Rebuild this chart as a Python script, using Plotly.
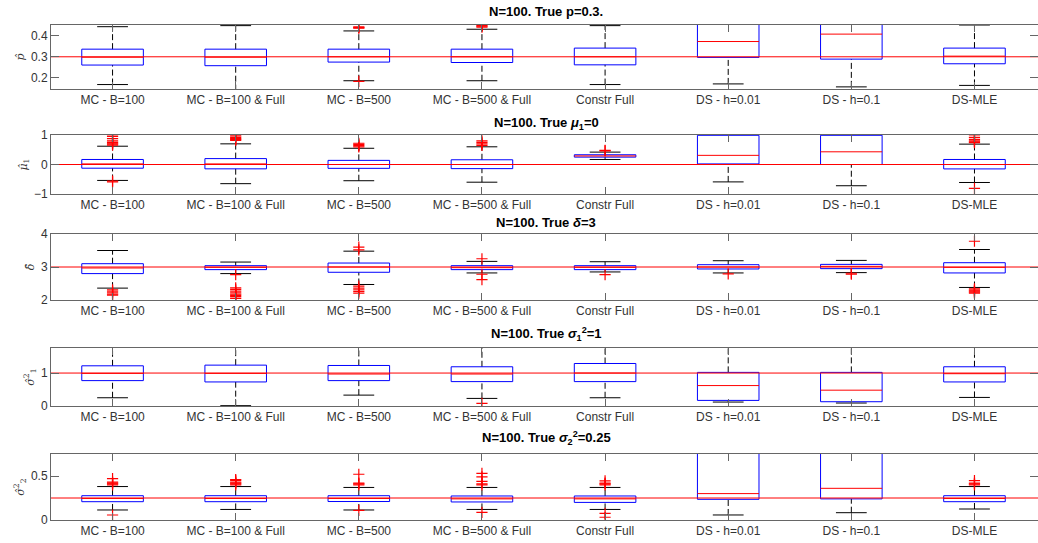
import plotly.graph_objects as go

categories = ["MC - B=100", "MC - B=100 & Full", "MC - B=500", "MC - B=500 & Full",
              "Constr Full", "DS - h=0.01", "DS - h=0.1", "DS-MLE"]

# Panel 1: p
p_true = 0.3
p_lo  = [0.169, 0.140, 0.187, 0.187, 0.169, 0.172, 0.158, 0.165]
p_q1  = [0.261, 0.258, 0.275, 0.273, 0.262, 0.297, 0.289, 0.267]
p_med = [0.298, 0.298, 0.300, 0.300, 0.300, 0.372, 0.407, 0.303]
p_q3  = [0.336, 0.336, 0.336, 0.336, 0.341, 0.520, 0.540, 0.341]
p_hi  = [0.442, 0.447, 0.422, 0.430, 0.447, 0.600, 0.620, 0.450]
p_out = [[], [], [0.435, 0.438, 0.441, 0.184], [0.440, 0.444, 0.447], [], [], [], []]

# Panel 2: mu1
mu_true = 0.0
mu_lo  = [-0.54, -0.65, -0.55, -0.60, 0.17, -0.59, -0.72, -0.61]
mu_q1  = [-0.125, -0.147, -0.13, -0.14, 0.25, 0.02, 0.00, -0.15]
mu_med = [0.02, 0.02, 0.00, 0.00, 0.29, 0.31, 0.43, 0.00]
mu_q3  = [0.17, 0.20, 0.14, 0.16, 0.33, 0.99, 0.99, 0.17]
mu_hi  = [0.62, 0.70, 0.55, 0.60, 0.42, 1.30, 1.35, 0.69]
mu_out = [[0.66, 0.69, 0.72, 0.75, 0.80, 0.88, 0.95, 1.00, -0.56, -0.59],
          [0.82, 0.85, 0.88, 0.92, 0.97],
          [0.60, 0.64, 0.68, 0.72],
          [0.65, 0.70, 0.75, 0.80],
          [0.46, 0.48],
          [], [],
          [0.74, 0.77, 0.80, 0.85, 0.92, 1.00, -0.81]]

# Panel 3: delta
d_true = 3.0
d_lo  = [2.36, 2.80, 2.47, 2.82, 2.85, 2.82, 2.83, 2.38]
d_q1  = [2.80, 2.92, 2.84, 2.92, 2.92, 2.94, 2.95, 2.82]
d_med = [2.97, 2.99, 3.00, 2.98, 2.99, 3.00, 3.02, 2.99]
d_q3  = [3.10, 3.04, 3.12, 3.04, 3.04, 3.07, 3.08, 3.13]
d_hi  = [3.50, 3.15, 3.48, 3.17, 3.16, 3.19, 3.20, 3.53]
d_out = [[2.31, 2.27, 2.22, 2.18, 2.15],
         [2.77, 2.37, 2.32, 2.27, 2.22, 2.18, 2.14, 2.10, 2.05],
         [3.60, 3.52, 2.42, 2.36, 2.31, 2.26, 2.21],
         [3.25, 2.78, 2.62],
         [2.77],
         [2.79],
         [2.81, 2.78],
         [3.78, 2.34, 2.30, 2.27, 2.24, 2.21]]

# Panel 4: sigma1^2
s1_true = 1.0
s1_lo  = [0.25, 0.01, 0.33, 0.23, 0.25, 0.12, 0.09, 0.26]
s1_q1  = [0.77, 0.73, 0.77, 0.74, 0.74, 0.17, 0.13, 0.73]
s1_med = [0.99, 0.99, 0.97, 0.97, 1.00, 0.62, 0.48, 0.98]
s1_q3  = [1.22, 1.24, 1.23, 1.19, 1.29, 1.02, 1.02, 1.19]
s1_hi  = [1.85, 1.90, 1.82, 1.80, 1.95, 2.00, 2.05, 1.85]
s1_out = [[], [], [], [0.08], [], [], [], []]

# Panel 5: sigma2^2
s2_true = 0.25
s2_lo  = [0.114, 0.120, 0.114, 0.120, 0.120, 0.057, 0.083, 0.125]
s2_q1  = [0.208, 0.208, 0.210, 0.205, 0.200, 0.235, 0.240, 0.208]
s2_med = [0.245, 0.245, 0.245, 0.240, 0.240, 0.300, 0.360, 0.245]
s2_q3  = [0.276, 0.276, 0.276, 0.273, 0.273, 0.850, 0.900, 0.276]
s2_hi  = [0.380, 0.380, 0.370, 0.370, 0.370, 1.100, 1.150, 0.380]
s2_out = [[0.40, 0.41, 0.42, 0.43, 0.47, 0.057],
          [0.40, 0.41, 0.42, 0.43, 0.45, 0.46],
          [0.40, 0.41, 0.42, 0.52, 0.11],
          [0.40, 0.41, 0.44, 0.49, 0.53, 0.087],
          [0.40, 0.41, 0.42, 0.445, 0.076, 0.031],
          [], [],
          [0.40, 0.41, 0.42, 0.447]]

panels = [
    dict(lo=p_lo, q1=p_q1, med=p_med, q3=p_q3, hi=p_hi, out=p_out, true=p_true,
         yr=[0.148, 0.45], ticks=[0.2, 0.3, 0.4], ylab="<i>p̂</i>",
         title="N=100. True p=0.3."),
    dict(lo=mu_lo, q1=mu_q1, med=mu_med, q3=mu_q3, hi=mu_hi, out=mu_out, true=mu_true,
         yr=[-1, 1], ticks=[-1, 0, 1], ylab="<i>μ̂</i><sub>1</sub>",
         title="N=100. True <i>μ</i><sub>1</sub>=0"),
    dict(lo=d_lo, q1=d_q1, med=d_med, q3=d_q3, hi=d_hi, out=d_out, true=d_true,
         yr=[2, 4], ticks=[2, 3, 4], ylab="<i>δ̂</i>",
         title="N=100. True <i>δ</i>=3"),
    dict(lo=s1_lo, q1=s1_q1, med=s1_med, q3=s1_q3, hi=s1_hi, out=s1_out, true=s1_true,
         yr=[0, 1.76], ticks=[0, 1], ylab="<i>σ̂</i><sup>2</sup><sub>1</sub>",
         title="N=100. True <i>σ</i><sub>1</sub><sup>2</sup>=1"),
    dict(lo=s2_lo, q1=s2_q1, med=s2_med, q3=s2_q3, hi=s2_hi, out=s2_out, true=s2_true,
         yr=[0, 0.75], ticks=[0, 0.5], ylab="<i>σ̂</i><sup>2</sup><sub>2</sub>",
         title="N=100. True <i>σ</i><sub>2</sub><sup>2</sup>=0.25"),
]

# pixel layout (top, bottom) of each axes
W, H = 1038, 543
px_rows = [(25, 89), (135, 194), (234, 300), (348, 406), (454, 520)]
title_y = [12, 124, 222, 334, 438]
x_left = 51

fig = go.Figure()
BW, CW = 0.25, 0.125
xpos = list(range(1, len(categories) + 1))

for k, pn in enumerate(panels):
    ax = "" if k == 0 else str(k + 1)
    xa, ya = "x" + ax, "y" + ax
    wx, wy, cx, cy, bx, by, mx, my, ox, oy = [], [], [], [], [], [], [], [], [], []
    for i, x in enumerate(xpos):
        lo, q1, md, q3, hi = pn["lo"][i], pn["q1"][i], pn["med"][i], pn["q3"][i], pn["hi"][i]
        wx += [x, x, None, x, x, None]
        wy += [q3, hi, None, lo, q1, None]
        cx += [x - CW, x + CW, None, x - CW, x + CW, None]
        cy += [hi, hi, None, lo, lo, None]
        bx += [x - BW, x + BW, x + BW, x - BW, x - BW, None]
        by += [q1, q1, q3, q3, q1, None]
        mx += [x - BW, x + BW, None]
        my += [md, md, None]
        for v in pn["out"][i]:
            ox.append(x)
            oy.append(v)
    common = dict(xaxis=xa, yaxis=ya, showlegend=False, hoverinfo="skip")
    fig.add_trace(go.Scatter(x=wx, y=wy, mode="lines",
                             line=dict(color="black", width=1, dash="6px,3px"), **common))
    fig.add_trace(go.Scatter(x=cx, y=cy, mode="lines",
                             line=dict(color="black", width=1), **common))
    fig.add_trace(go.Scatter(x=bx, y=by, mode="lines",
                             line=dict(color="#0000ff", width=1), **common))
    fig.add_trace(go.Scatter(x=mx, y=my, mode="lines",
                             line=dict(color="#ff0000", width=1), **common))
    fig.add_trace(go.Scatter(x=ox, y=oy, mode="markers", cliponaxis=True,
                             marker=dict(symbol="cross-thin-open", size=8, color="#ff0000",
                                         line=dict(color="#ff0000", width=1.2)), **common))
    fig.add_trace(go.Scatter(x=[0.3, 8.8], y=[pn["true"], pn["true"]], mode="lines",
                             line=dict(color="#ff0000", width=1), **common))

    top, bot = px_rows[k]
    fig.layout["xaxis" + ax] = dict(
        domain=[x_left / W, 1.0], range=[0.5, 8.516], anchor=ya, automargin=False,
        tickmode="array", tickvals=xpos, ticktext=categories,
        ticks="inside", ticklen=7, tickcolor="#666666", showline=True,
        linecolor="#666666", linewidth=1, mirror="ticks", showgrid=False, zeroline=False,
        tickfont=dict(family="Liberation Sans, Arial", size=12, color="#333333"),
        fixedrange=True)
    fig.layout["yaxis" + ax] = dict(
        domain=[1 - bot / H, 1 - top / H], range=pn["yr"], anchor=xa, automargin=False,
        tickmode="array", tickvals=pn["ticks"],
        ticks="inside", ticklen=8, tickcolor="#666666", showline=True,
        linecolor="#666666", linewidth=1, mirror="ticks", showgrid=False, zeroline=False,
        tickfont=dict(family="Liberation Sans, Arial", size=12, color="#333333"),
        title=dict(text=pn["ylab"], standoff=4,
                   font=dict(family="DejaVu Serif", size=11, color="#333333")),
        fixedrange=True)
    fig.add_annotation(text="<b>" + pn["title"] + "</b>", xref="paper", yref="paper",
                       x=546 / W, y=1 - title_y[k] / H, xanchor="center", yanchor="middle",
                       showarrow=False,
                       font=dict(family="Liberation Sans, Arial", size=13, color="black"))

fig.update_layout(width=W, height=H, margin=dict(l=0, r=0, t=0, b=0, autoexpand=False),
                  plot_bgcolor="white", paper_bgcolor="white")

fig.write_html("out.html", config={"displayModeBar": False},
               post_script="document.body.style.margin='0px';document.body.style.overflow='hidden';")
